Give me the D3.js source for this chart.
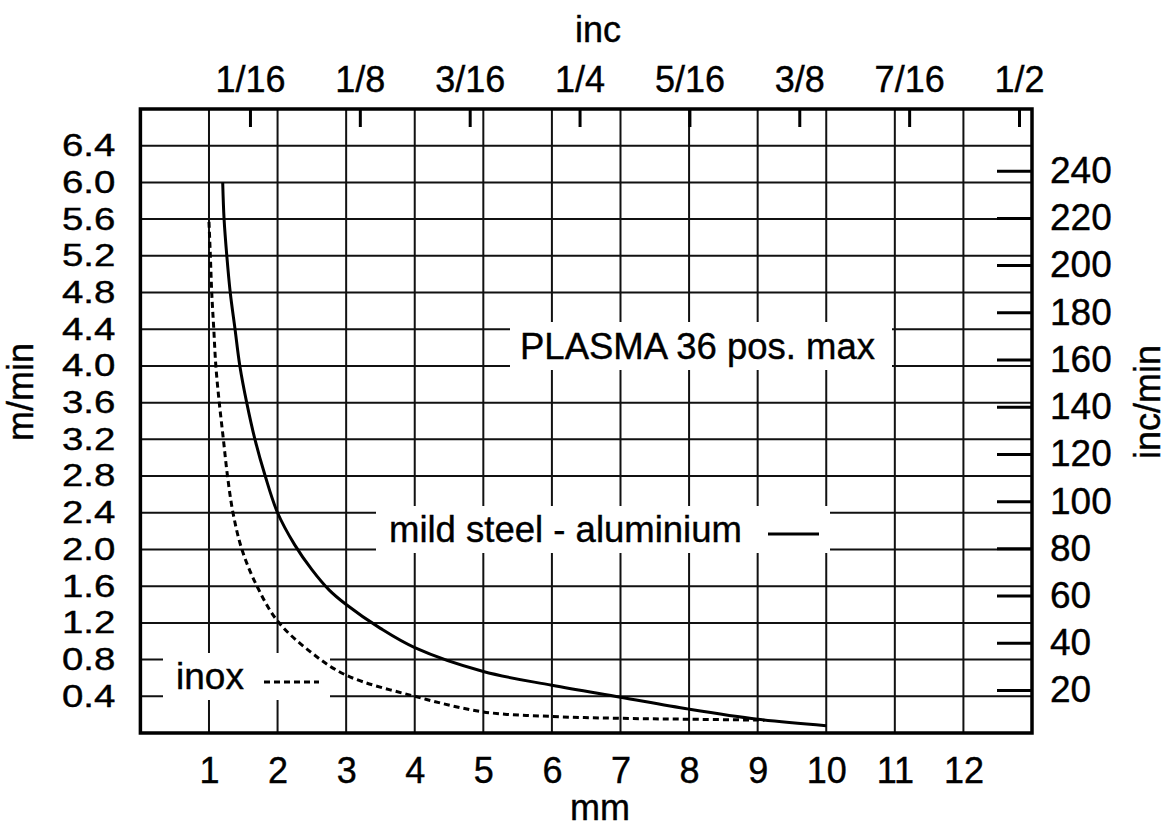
<!DOCTYPE html>
<html>
<head>
<meta charset="utf-8">
<script src="https://cdn.jsdelivr.net/npm/d3@7"></script>
<style>
  body { margin: 0; background: #fff; }
  text { font-family: "Liberation Sans", Arial, sans-serif; fill: #000; stroke: #000; stroke-width: 0.4px; }
</style>
</head>
<body>
<div id="chart"></div>
<script>
const width = 1167;
const height = 828;
const plot = { left: 140.4, right: 1032, top: 109, bottom: 733 };

// thickness in mm vs cutting speed in m/min
const mildSteelMm = [1.2, 1.22, 1.26, 1.31, 1.38, 1.45, 1.55, 1.67, 1.82, 2.0, 2.25, 2.5, 2.75, 3.0, 3.5, 4, 5, 6, 7, 8, 9, 10];
const mildSteelSpeed = [6.0, 5.6, 5.2, 4.8, 4.4, 4.0, 3.6, 3.2, 2.8, 2.4, 2.05, 1.78, 1.56, 1.4, 1.14, 0.93, 0.67, 0.52, 0.39, 0.26, 0.15, 0.08];

const inoxMm = [1.0, 1.02, 1.04, 1.07, 1.10, 1.15, 1.21, 1.27, 1.35, 1.48, 1.70, 2.0, 2.47, 3, 4, 5, 6, 7, 8, 9.1];
const inoxSpeed = [5.57, 5.2, 4.8, 4.4, 4.0, 3.6, 3.2, 2.8, 2.4, 2.0, 1.6, 1.22, 0.89, 0.63, 0.40, 0.23, 0.18, 0.16, 0.15, 0.14];

const mmTicks = [1, 2, 3, 4, 5, 6, 7, 8, 9, 10, 11, 12];
const speedTicks = [0.4, 0.8, 1.2, 1.6, 2.0, 2.4, 2.8, 3.2, 3.6, 4.0, 4.4, 4.8, 5.2, 5.6, 6.0, 6.4];
const incTicks = [1 / 16, 1 / 8, 3 / 16, 1 / 4, 5 / 16, 3 / 8, 7 / 16, 1 / 2];
const incLabels = ["1/16", "1/8", "3/16", "1/4", "5/16", "3/8", "7/16", "1/2"];
const incMinTicks = [20, 40, 60, 80, 100, 120, 140, 160, 180, 200, 220, 240];

const svg = d3.select("#chart").append("svg")
  .attr("width", width)
  .attr("height", height);

const x = d3.scaleLinear().domain([0, 13]).range([plot.left, plot.right]);
const y = d3.scaleLinear().domain([0, 6.8]).range([plot.bottom, plot.top]);
const xInc = d3.scaleLinear().domain([0, 0.5]).range([140.1, 1019]);
const yIncMin = d3.scaleLinear().domain([0, 240]).range([737.2, 170.7]);

// grid
svg.append("g")
  .selectAll("line")
  .data(mmTicks)
  .enter()
  .append("line")
  .attr("x1", d => x(d)).attr("x2", d => x(d))
  .attr("y1", plot.top).attr("y2", plot.bottom)
  .attr("stroke", "#111").attr("stroke-width", 2);

svg.append("g")
  .selectAll("line")
  .data(speedTicks)
  .enter()
  .append("line")
  .attr("x1", plot.left).attr("x2", plot.right)
  .attr("y1", d => y(d)).attr("y2", d => y(d))
  .attr("stroke", "#111").attr("stroke-width", 2);

// white label boxes over the grid
const boxes = [
  { x: 510, y: 322, w: 382, h: 48 },
  { x: 376, y: 506, w: 454, h: 47 },
  { x: 163, y: 653, w: 167, h: 47 }
];
svg.append("g")
  .selectAll("rect")
  .data(boxes)
  .enter()
  .append("rect")
  .attr("x", d => d.x).attr("y", d => d.y)
  .attr("width", d => d.w).attr("height", d => d.h)
  .attr("fill", "#fff");

// curves
const line = d3.line()
  .x(d => x(d[0]))
  .y(d => y(d[1]))
  .curve(d3.curveCatmullRom.alpha(0.5));

svg.append("path")
  .datum(d3.zip(mildSteelMm, mildSteelSpeed))
  .attr("d", line)
  .attr("fill", "none")
  .attr("stroke", "#000")
  .attr("stroke-width", 3);

svg.append("path")
  .datum(d3.zip(inoxMm, inoxSpeed))
  .attr("d", line)
  .attr("fill", "none")
  .attr("stroke", "#000")
  .attr("stroke-width", 3)
  .attr("stroke-dasharray", "6,4");

// frame
svg.append("rect")
  .attr("x", plot.left).attr("y", plot.top)
  .attr("width", plot.right - plot.left)
  .attr("height", plot.bottom - plot.top)
  .attr("fill", "none")
  .attr("stroke", "#000")
  .attr("stroke-width", 3.5);

// axes
const styleAxis = (g, size) => {
  g.select(".domain").remove();
  g.selectAll("text").style("font-size", size + "px").attr("fill", "#000");
  g.selectAll("line").attr("stroke", "#000").attr("stroke-width", 3);
};

svg.append("g")
  .attr("transform", `translate(0,${plot.bottom})`)
  .call(d3.axisBottom(x).tickValues(mmTicks).tickSize(0).tickPadding(24))
  .call(g => styleAxis(g, 36));

// left labels are short and wide in the original
svg.append("g")
  .attr("transform", `translate(${plot.left},0)`)
  .call(d3.axisLeft(y).tickValues(speedTicks).tickFormat(d3.format(".1f")).tickSize(0).tickPadding(25))
  .call(g => styleAxis(g, 31))
  .call(g => g.selectAll("text")
    .style("transform-box", "fill-box")
    .style("transform-origin", "100% 50%")
    .style("transform", "scaleX(1.24)"));

svg.append("g")
  .attr("transform", `translate(0,${plot.top})`)
  .call(d3.axisTop(xInc).tickValues(incTicks).tickFormat((d, i) => incLabels[i]).tickSize(-18).tickPadding(17))
  .call(g => styleAxis(g, 36));

svg.append("g")
  .attr("transform", `translate(${plot.right},0)`)
  .call(d3.axisRight(yIncMin).tickValues(incMinTicks).tickSize(-35).tickPadding(18))
  .call(g => styleAxis(g, 37));

// axis titles
svg.append("text")
  .attr("x", 598).attr("y", 42)
  .attr("text-anchor", "middle")
  .style("font-size", "36px")
  .text("inc");

svg.append("text")
  .attr("x", 600).attr("y", 820)
  .attr("text-anchor", "middle")
  .style("font-size", "36px")
  .text("mm");

svg.append("text")
  .attr("transform", "translate(33,392) rotate(-90)")
  .attr("text-anchor", "middle")
  .style("font-size", "36px")
  .text("m/min");

svg.append("text")
  .attr("transform", "translate(1160,402) rotate(-90)")
  .attr("text-anchor", "middle")
  .style("font-size", "36px")
  .text("inc/min");

// labels inside the plot
svg.append("text")
  .attr("x", 520).attr("y", 359)
  .style("font-size", "36.5px")
  .text("PLASMA 36 pos. max");

svg.append("text")
  .attr("x", 389).attr("y", 542)
  .style("font-size", "36.5px")
  .text("mild steel - aluminium");

svg.append("line")
  .attr("x1", 768).attr("x2", 819)
  .attr("y1", 534).attr("y2", 534)
  .attr("stroke", "#000").attr("stroke-width", 3);

svg.append("text")
  .attr("x", 176).attr("y", 689)
  .style("font-size", "37px")
  .text("inox");

svg.append("line")
  .attr("x1", 264).attr("x2", 319)
  .attr("y1", 682).attr("y2", 682)
  .attr("stroke", "#000").attr("stroke-width", 3)
  .attr("stroke-dasharray", "6,4");
</script>
</body>
</html>
